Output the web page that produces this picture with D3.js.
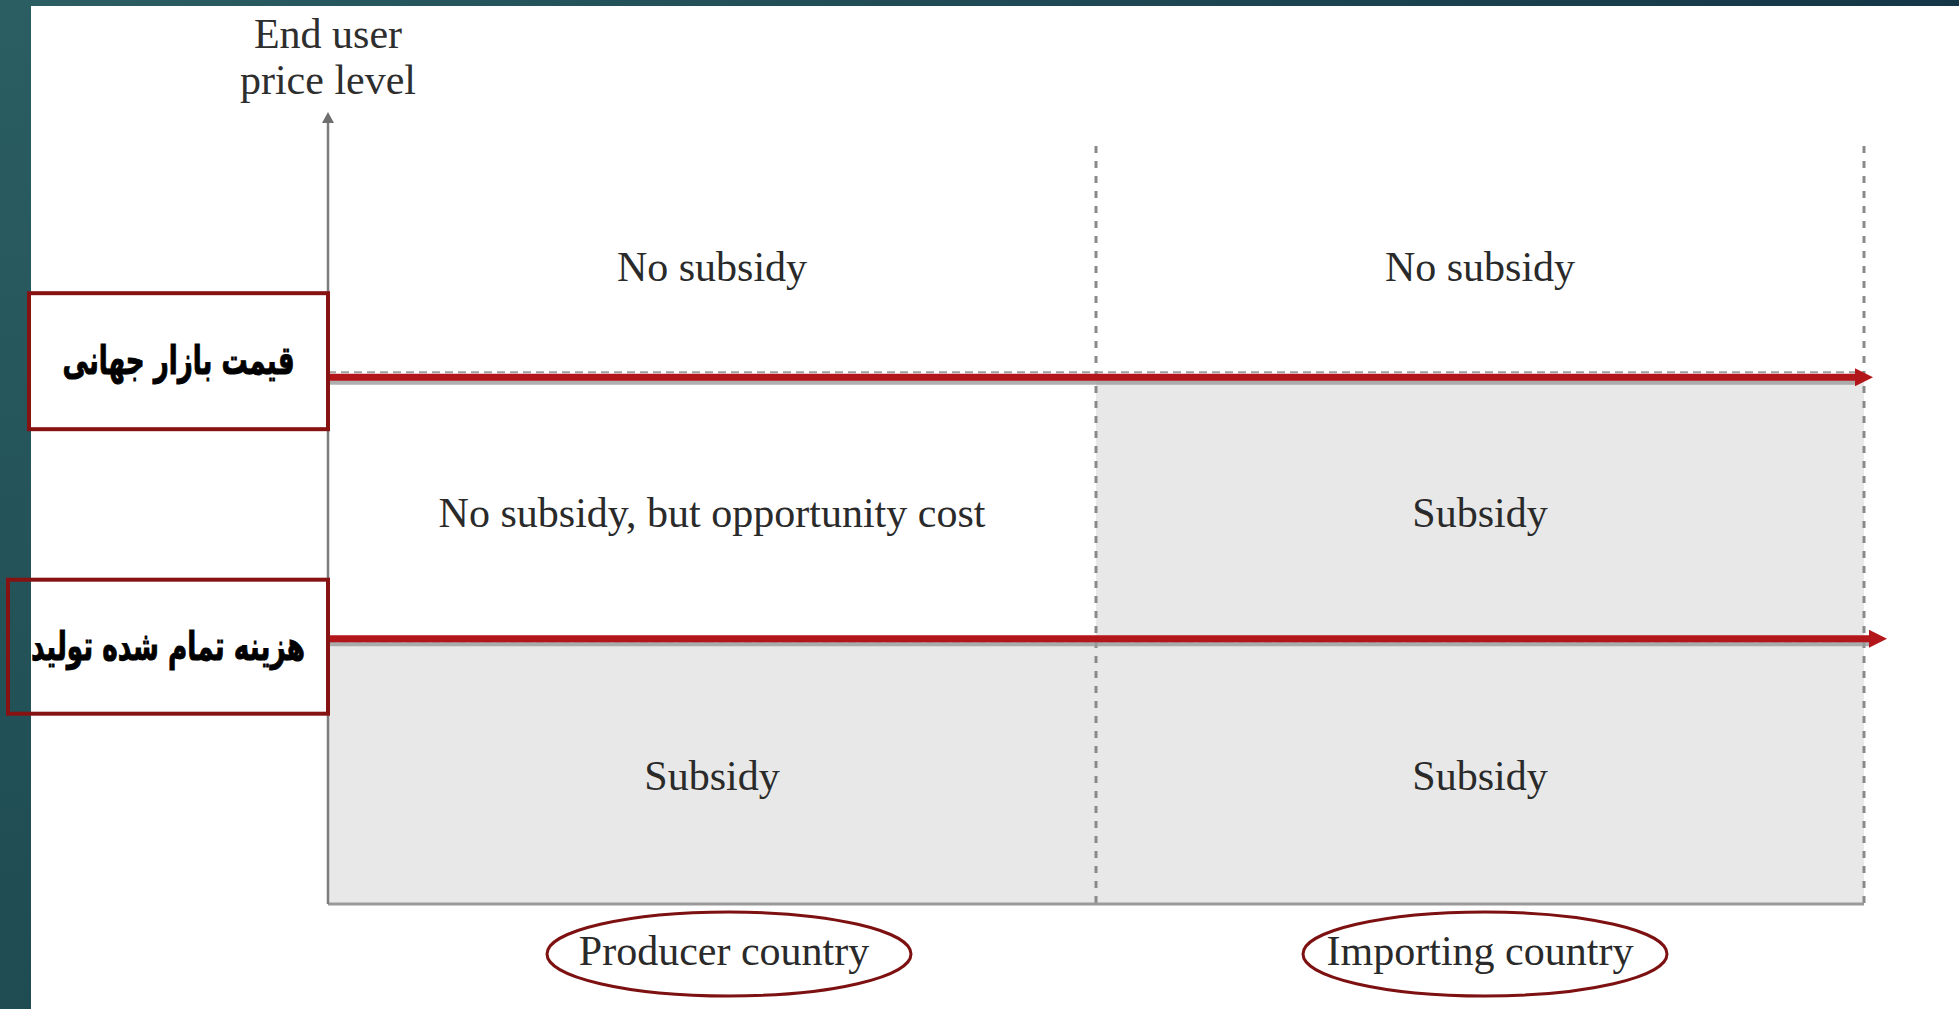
<!DOCTYPE html>
<html>
<head>
<meta charset="utf-8">
<script src="https://cdn.jsdelivr.net/npm/d3@7"></script>
<style>
  html, body { margin: 0; padding: 0; background: #fff; overflow: hidden; }
  svg { display: block; }
</style>
</head>
<body>
<div class="plot"></div>
<script>
// chart data
const columns = ["Producer country", "Importing country"];
const yTitle = ["End user", "price level"];
// price level boundaries (0 = bottom of chart, 100 = top)
const rowBounds = [100, 69.5, 35, 0];
const cellLabels = [
  ["No subsidy", "No subsidy"],
  ["No subsidy, but opportunity cost", "Subsidy"],
  ["Subsidy", "Subsidy"]
];
const cellShaded = [
  [false, false],
  [false, true],
  [true, true]
];
const thresholdNames = ["قیمت بازار جهانی", "هزینه تمام شده تولید"];
const thresholdLevels = [69.5, 35];

const w = 1959, h = 1009;
const svg = d3.select('.plot').append('svg')
  .attr('width', w)
  .attr('height', h);

const defs = svg.append('defs');
const gTop = defs.append('linearGradient').attr('id', 'topband')
  .attr('x1', 0).attr('x2', 1).attr('y1', 0).attr('y2', 0);
gTop.append('stop').attr('offset', 0).attr('stop-color', '#2b5e63');
gTop.append('stop').attr('offset', 1).attr('stop-color', '#143646');
const gLeft = defs.append('linearGradient').attr('id', 'leftband')
  .attr('x1', 0).attr('x2', 0).attr('y1', 0).attr('y2', 1);
gLeft.append('stop').attr('offset', 0).attr('stop-color', '#2a5e62');
gLeft.append('stop').attr('offset', 1).attr('stop-color', '#1f4b53');

// slide frame
svg.append('rect').attr('x', 0).attr('y', 0).attr('width', w).attr('height', 6).attr('fill', 'url(#topband)');
svg.append('rect').attr('x', 0).attr('y', 0).attr('width', 31).attr('height', h).attr('fill', 'url(#leftband)');

// scales
const x = d3.scaleBand().domain(columns).range([328, 1864]).padding(0);
const y = d3.scaleLinear().domain([0, 100]).range([904, 146]);

const serif = "'Liberation Serif', 'Times New Roman', serif";

// shaded cells
const cells = [];
cellLabels.forEach(function(row, ri) {
  row.forEach(function(lab, ci) {
    cells.push({row: ri, col: columns[ci], label: lab, shaded: cellShaded[ri][ci]});
  });
});

svg.append('g').selectAll('rect').data(cells.filter(function(d){return d.shaded})).join('rect')
  .attr('x', function(d){return x(d.col)})
  .attr('y', function(d){return y(rowBounds[d.row])})
  .attr('width', x.bandwidth())
  .attr('height', function(d){return y(rowBounds[d.row + 1]) - y(rowBounds[d.row])})
  .attr('fill', '#e8e8e8');

// dashed row boundaries
svg.append('g').selectAll('line').data(thresholdLevels).join('line')
  .attr('x1', x.range()[0]).attr('x2', x.range()[1])
  .attr('y1', function(d, i){return y(d) + (i === 0 ? -5 : 3)})
  .attr('y2', function(d, i){return y(d) + (i === 0 ? -5 : 3)})
  .style('stroke', '#a0a0a0')
  .style('stroke-width', '2px')
  .style('stroke-dasharray', '8 5');

// dashed column boundaries
svg.append('g').selectAll('line').data([columns[1], null]).join('line')
  .attr('x1', function(d){return d ? x(d) : x.range()[1]})
  .attr('x2', function(d){return d ? x(d) : x.range()[1]})
  .attr('y1', y(100)).attr('y2', y(0))
  .style('stroke', '#8a8a8a')
  .style('stroke-width', '3px')
  .style('stroke-dasharray', '7 8');

// axes
svg.append('line')
  .attr('x1', x.range()[0]).attr('x2', x.range()[1])
  .attr('y1', y(0)).attr('y2', y(0))
  .style('stroke', '#9a9a9a').style('stroke-width', '3px');
svg.append('line')
  .attr('x1', x.range()[0]).attr('x2', x.range()[0])
  .attr('y1', y(0)).attr('y2', 120)
  .style('stroke', '#7c7c7c').style('stroke-width', '2.5px');
svg.append('path')
  .attr('d', d3.line()([[x.range()[0] - 6, 123], [x.range()[0], 112], [x.range()[0] + 6, 123]]) + 'Z')
  .attr('fill', '#6f6f6f');

// axis title
svg.append('text')
  .attr('x', x.range()[0])
  .attr('text-anchor', 'middle')
  .style('font-family', serif).style('font-size', '42px').style('fill', '#2e2e2e')
  .selectAll('tspan').data(yTitle).join('tspan')
  .attr('x', x.range()[0])
  .attr('y', function(d, i){return 48 + i * 46})
  .text(function(d){return d});

// cell labels
svg.append('g').selectAll('text').data(cells).join('text')
  .attr('x', function(d){return x(d.col) + x.bandwidth() / 2})
  .attr('y', function(d){return (y(rowBounds[d.row]) + y(rowBounds[d.row + 1])) / 2 + 19})
  .attr('text-anchor', 'middle')
  .style('font-family', serif).style('font-size', '42px').style('fill', '#2a2a2a')
  .text(function(d){return d.label});

// red threshold arrows
const arrowOvershoot = [9, 23];
const arrows = svg.append('g').selectAll('g').data(thresholdLevels).join('g');
arrows.append('line')
  .attr('x1', x.range()[0]).attr('x2', function(d, i){return x.range()[1] + arrowOvershoot[i] - 16})
  .attr('y1', function(d){return y(d) + 5}).attr('y2', function(d){return y(d) + 5})
  .style('stroke', '#9c9c9c').style('stroke-width', '5px').style('opacity', 0.8);
arrows.append('line')
  .attr('x1', x.range()[0]).attr('x2', function(d, i){return x.range()[1] + arrowOvershoot[i] - 12})
  .attr('y1', function(d){return y(d)}).attr('y2', function(d){return y(d)})
  .style('stroke', '#b3161a').style('stroke-width', '7px');
arrows.append('path')
  .attr('d', function(d, i){
    const tip = x.range()[1] + arrowOvershoot[i], yy = y(d);
    return d3.line()([[tip - 18, yy - 9], [tip, yy], [tip - 18, yy + 9]]) + 'Z';
  })
  .attr('fill', '#b3161a');

// threshold label boxes
const boxLeft = [29, 8];
const boxTopOffset = [-84, -59];
const boxHeight = [136, 134];
const boxes = svg.append('g').selectAll('g').data(thresholdNames).join('g');
boxes.append('rect')
  .attr('x', function(d, i){return boxLeft[i]})
  .attr('y', function(d, i){return y(thresholdLevels[i]) + boxTopOffset[i]})
  .attr('width', function(d, i){return x.range()[0] - boxLeft[i]})
  .attr('height', function(d, i){return boxHeight[i]})
  .attr('fill', 'none')
  .style('stroke', '#861212').style('stroke-width', '4px');
const targetWidth = [232, 274];
boxes.append('text')
  .attr('x', function(d, i){return (boxLeft[i] + x.range()[0]) / 2})
  .attr('y', function(d, i){return y(thresholdLevels[i]) + boxTopOffset[i] + boxHeight[i] / 2 + 13})
  .attr('text-anchor', 'middle')
  .attr('direction', 'rtl')
  .attr('textLength', function(d, i){return targetWidth[i]})
  .attr('lengthAdjust', 'spacingAndGlyphs')
  .style('font-family', "'DejaVu Sans', sans-serif").style('font-weight', 'bold')
  .style('font-size', '40px').style('fill', '#000')
  .style('stroke', '#000').style('stroke-width', '1px')
  .text(function(d){return d});

// column labels with ellipses
const labelShift = [12, 0];
const colLabels = svg.append('g').selectAll('g').data(columns).join('g');
colLabels.append('ellipse')
  .attr('cx', function(d, i){return x(d) + x.bandwidth() / 2 + labelShift[i] + 5})
  .attr('cy', 954).attr('rx', 182).attr('ry', 42)
  .attr('fill', 'none')
  .style('stroke', '#7d1010').style('stroke-width', '3px');
colLabels.append('text')
  .attr('x', function(d, i){return x(d) + x.bandwidth() / 2 + labelShift[i]})
  .attr('y', 965)
  .attr('text-anchor', 'middle')
  .style('font-family', serif).style('font-size', '42px').style('fill', '#2a2a2a')
  .text(function(d){return d});
</script>
</body>
</html>
